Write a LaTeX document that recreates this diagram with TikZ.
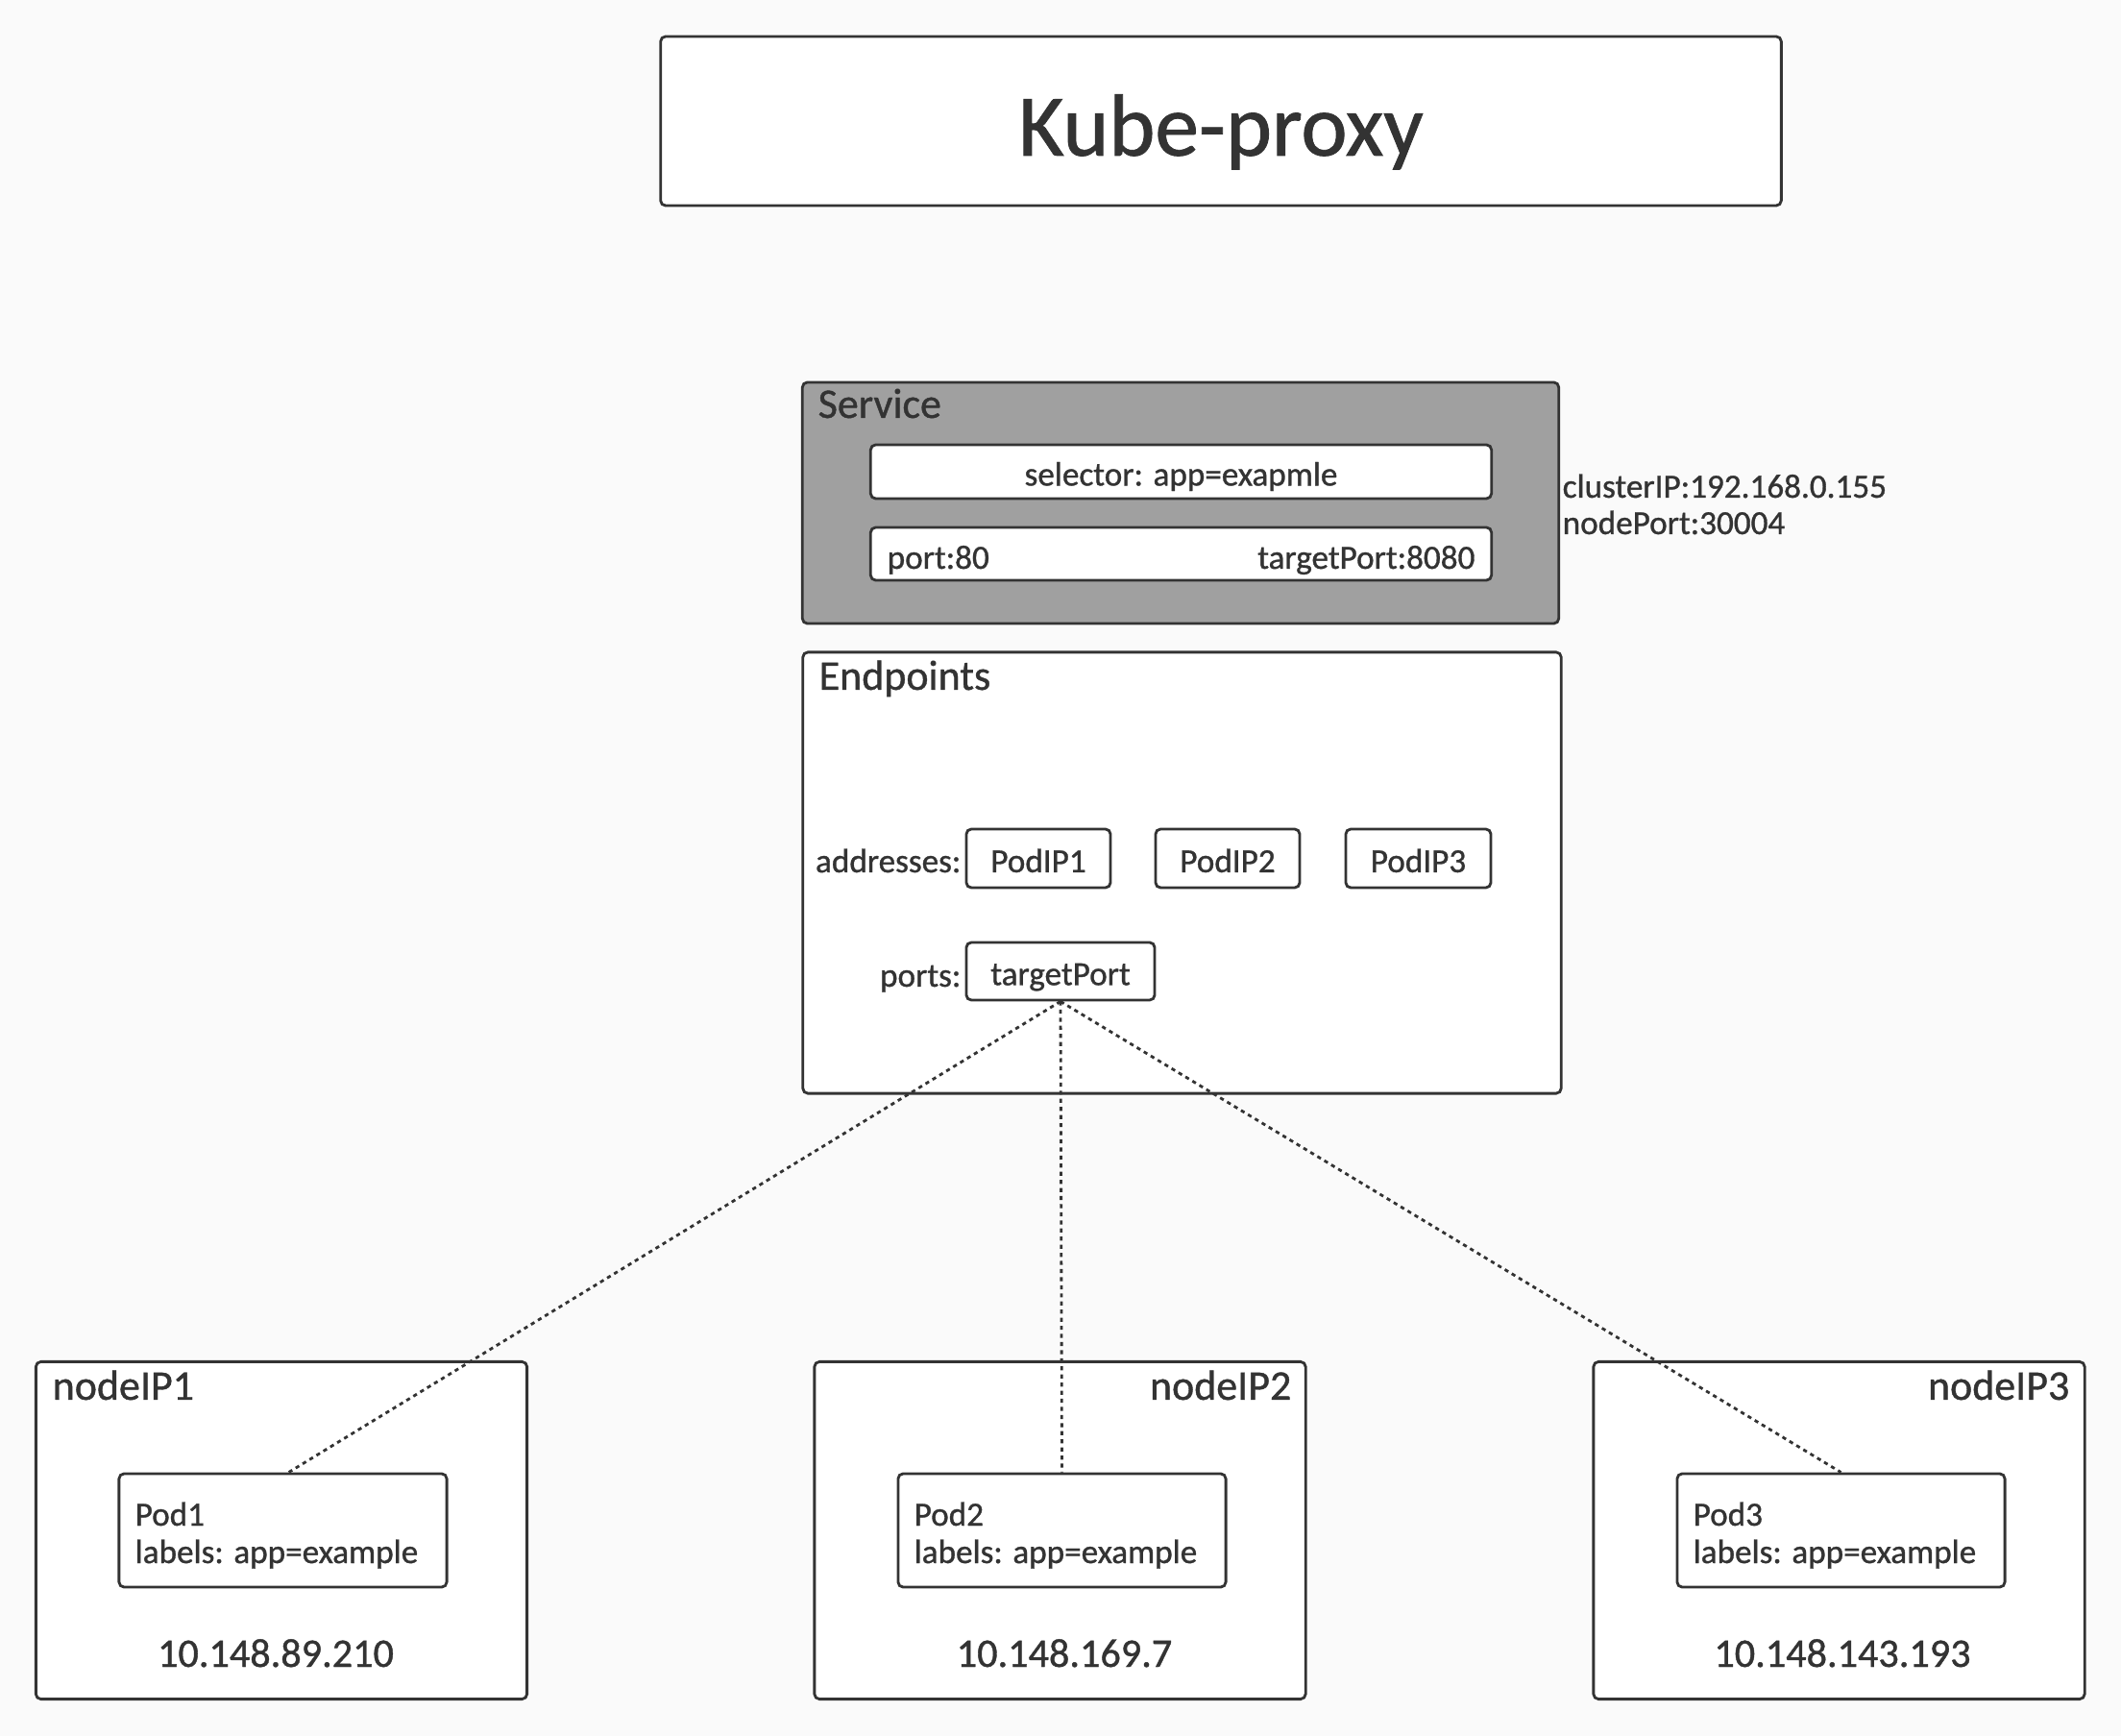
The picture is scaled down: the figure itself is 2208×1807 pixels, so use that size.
\documentclass[tikz,border=0pt]{standalone}
\usepackage{fontspec}
\setmainfont{Carlito}[FakeBold=0.9]
\definecolor{ink}{HTML}{333333}
\definecolor{bg}{HTML}{FAFAFA}
\definecolor{svcfill}{HTML}{A0A0A0}
\begin{document}
\begin{tikzpicture}[x=0.01cm,y=-0.01cm,
  box/.style={draw=ink, line width=0.8pt, rounded corners=1.5pt, inner sep=0pt, fill=white,
    text=ink, font=\fontsize{10}{12}\selectfont, text height=8.2pt, text depth=0pt},
  lbl/.style={inner sep=0pt, text=ink, font=\fontsize{10}{12}\selectfont},
  ttl/.style={inner sep=0pt, text=ink, font=\fontsize{12.5}{15}\selectfont},
  iptext/.style={inner sep=0pt, text=ink, font=\fontsize{12}{14}\selectfont},
  link/.style={draw=ink, line width=0.8pt, dash pattern=on 1.2pt off 1.2pt}]
\fill[bg] (0,0) rectangle (2208,1807);
\useasboundingbox (0,0) rectangle (2208,1807);

% Kube-proxy
\node[box, minimum width=11.66cm, minimum height=1.76cm, font=\fontsize{26}{30}\selectfont, text height=20.4pt] (kp) at (1271,126) {Kube-proxy};

% Service
\node[box, fill=svcfill, minimum width=7.87cm, minimum height=2.51cm] (svc) at (1229,523.5) {};
\node[ttl, anchor=base west] (svclbl) at (851,435) {Service};
\node[box, minimum width=6.46cm, minimum height=0.56cm] (sel) at (1229.5,491) {selector: app=exapmle};
\node[box, minimum width=6.46cm, minimum height=0.55cm] (portbox) at (1229.5,576.5) {};
\node[lbl, anchor=base west] (port80) at (923,592) {port:80};
\node[lbl, anchor=base east] (tp8080) at (1536,592) {targetPort:8080};
\node[lbl, anchor=base west] (cip) at (1626,518) {clusterIP:192.168.0.155};
\node[lbl, anchor=base west] (np) at (1626,556) {nodePort:30004};

% Endpoints
\node[box, minimum width=7.89cm, minimum height=4.59cm] (ep) at (1230.5,908.5) {};
\node[ttl, anchor=base west] (eplbl) at (852,718) {Endpoints};
\node[lbl, anchor=base east] (addr) at (1001,908) {addresses:};
\node[box, minimum width=1.50cm, minimum height=0.61cm] (pip1) at (1081,893.5) {PodIP1};
\node[box, minimum width=1.50cm, minimum height=0.61cm] (pip2) at (1278,893.5) {PodIP2};
\node[box, minimum width=1.51cm, minimum height=0.61cm] (pip3) at (1476.5,893.5) {PodIP3};
\node[lbl, anchor=base east] (ports) at (1001,1027) {ports:};
\node[box, minimum width=1.96cm, minimum height=0.60cm] (tp) at (1104,1011) {targetPort};

% Nodes
\node[box, minimum width=5.11cm, minimum height=3.51cm] (n1) at (293,1593) {};
\node[box, minimum width=5.11cm, minimum height=3.51cm] (n2) at (1103.5,1593) {};
\node[box, minimum width=5.11cm, minimum height=3.51cm] (n3) at (1914.5,1593) {};
\node[ttl, anchor=base west] (n1lbl) at (54,1457) {nodeIP1};
\node[ttl, anchor=base east] (n2lbl) at (1345,1457) {nodeIP2};
\node[ttl, anchor=base east] (n3lbl) at (2155,1457) {nodeIP3};

\node[box, minimum width=3.41cm, minimum height=1.18cm] (p1) at (294.5,1593) {};
\node[box, minimum width=3.41cm, minimum height=1.18cm] (p2) at (1105.5,1593) {};
\node[box, minimum width=3.41cm, minimum height=1.18cm] (p3) at (1916.5,1593) {};

\node[lbl, anchor=base west] (p1a) at (140,1588) {Pod1};
\node[lbl, anchor=base west] (p1b) at (140,1627) {labels: app=example};
\node[lbl, anchor=base west] (p2a) at (951,1588) {Pod2};
\node[lbl, anchor=base west] (p2b) at (951,1627) {labels: app=example};
\node[lbl, anchor=base west] (p3a) at (1762,1588) {Pod3};
\node[lbl, anchor=base west] (p3b) at (1762,1627) {labels: app=example};

\node[iptext, anchor=base] (ip1) at (287,1735) {10.148.89.210};
\node[iptext, anchor=base] (ip2) at (1108,1735) {10.148.169.7};
\node[iptext, anchor=base] (ip3) at (1918,1735) {10.148.143.193};

% links
\draw[link] (tp.south) -- ([xshift=0.06cm]p1.north);
\draw[link] (tp.south) -- (p2.north);
\draw[link] (tp.south) -- (p3.north);
\end{tikzpicture}
\end{document}
